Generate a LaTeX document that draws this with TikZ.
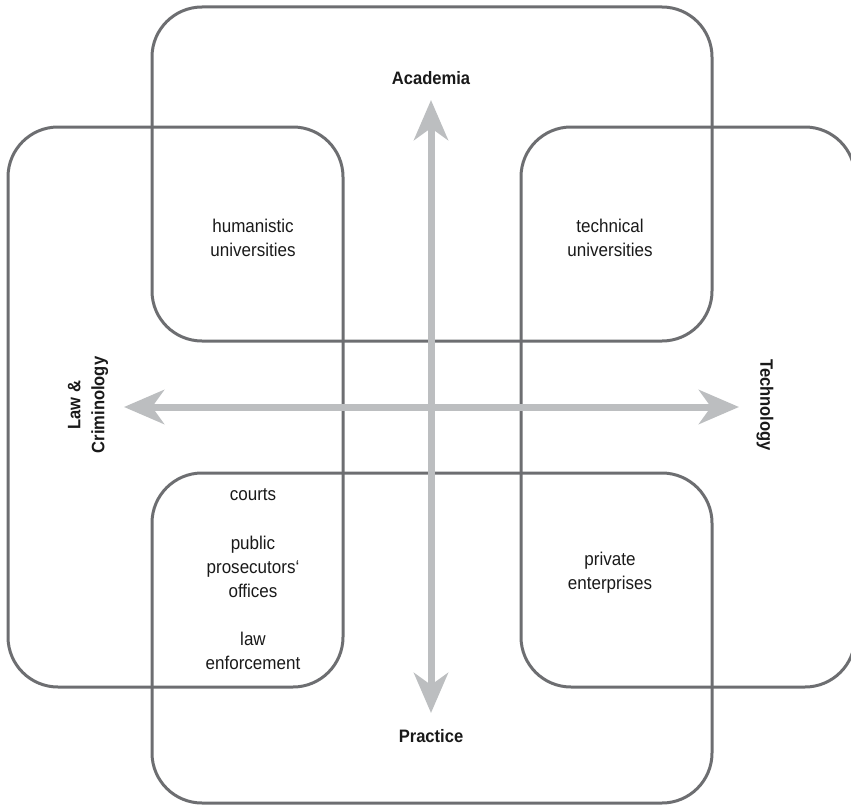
\documentclass[tikz,border=0pt]{standalone}
\usepackage{fontspec}
\setmainfont{Liberation Sans}
\newfontfamily\narrowsans[FakeStretch=0.92]{Liberation Sans}
\usetikzlibrary{arrows.meta}
\definecolor{boxgray}{HTML}{6D6E71}
\definecolor{arrgray}{HTML}{BCBEC0}
\begin{document}
\begin{tikzpicture}[x=1pt,y=-1pt,
  region/.style={draw=boxgray, line width=3pt, rounded corners=50pt, inner sep=0pt},
  axislabel/.style={font=\narrowsans\fontsize{18}{24}\selectfont\bfseries, text=black!90, inner sep=0pt, align=center},
  inlabel/.style={font=\narrowsans\fontsize{18.5}{24}\selectfont, text=black!90, inner sep=0pt, align=center},
  axis/.style={draw=arrgray, line width=7pt,
    arrows={Stealth[length=40pt,width=34pt,inset=12pt,fill=arrgray]-Stealth[length=40pt,width=34pt,inset=12pt,fill=arrgray]}}
]
\useasboundingbox (0,0) rectangle (851,808);
% regions
\node[region, minimum width=560pt, minimum height=334pt] (academia box) at (432,174) {};
\node[region, minimum width=560pt, minimum height=330pt] (practice box) at (432,638) {};
\node[region, minimum width=335pt, minimum height=560pt] (law box) at (175.5,407) {};
\node[region, minimum width=334pt, minimum height=560pt] (tech box) at (688,407) {};
% axis labels
\node[axislabel] (academia) at (431,78) {Academia};
\node[axislabel] (practice) at (431,736) {Practice};
\node[axislabel, rotate=90] (law) at (88,405) {Law \&\\Criminology};
\node[axislabel, rotate=-90] (technology) at (765,405) {Technology};
% inner labels
\node[inlabel] (humanistic) at (253,238) {humanistic\\universities};
\node[inlabel] (technical) at (610,238) {technical\\universities};
\node[inlabel] (private) at (610,573) {private\\enterprises};
\node[inlabel] (courts) at (253,495) {courts};
\node[inlabel] (prosecutors) at (253,567) {public\\prosecutors‘\\offices};
\node[inlabel] (enforcement) at (253,651) {law\\enforcement};
% axes
\coordinate (top tip) at (431,100);
\coordinate (bottom tip) at (431,713);
\coordinate (left tip) at (124,407);
\coordinate (right tip) at (739,407);
\draw[axis] (left tip) -- (right tip);
\draw[axis] (top tip) -- (bottom tip);
\end{tikzpicture}
\end{document}
